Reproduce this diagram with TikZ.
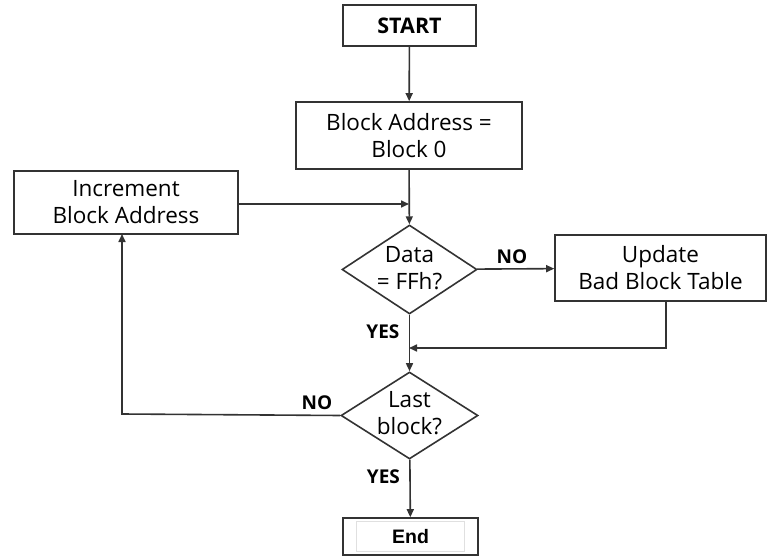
\documentclass[tikz,border=0pt]{standalone}
\usepackage{fontspec}
\setmainfont{Open Sans}
\newfontfamily\arialfont{Liberation Sans}
\usetikzlibrary{shapes.geometric,arrows.meta}
\tikzset{
  line/.style={draw=black!80, line width=1.6pt},
  flow/.style={line, -{Triangle[length=8pt,width=7pt]}},
  boxnode/.style={line, rectangle, inner sep=0pt, align=center, font=\fontsize{22.5}{27}\selectfont},
  decision/.style={line, diamond, inner sep=0pt},
  decisiontext/.style={align=center, inner sep=0pt, font=\fontsize{22.5}{27}\selectfont},
  tag/.style={font=\bfseries\fontsize{19}{22}\selectfont}
}
\begin{document}
\begin{tikzpicture}[x=1pt,y=-1pt]
\useasboundingbox (0,0) rectangle (768,556);
\node[boxnode, minimum width=133pt, minimum height=41pt, font=\bfseries\fontsize{21.5}{25}\selectfont] (start) at (409.5,25.5) {START};
\node[boxnode, minimum width=226pt, minimum height=67pt] (init) at (409,135.5) {Block Address =\\Block 0};
\node[boxnode, minimum width=224pt, minimum height=63pt] (incr) at (126,202.5) {Increment\\Block Address};
\node[decision, minimum width=135pt, minimum height=89pt] (data) at (409.5,269.5) {};
\node[decisiontext] (datatext) at (409.5,268) {Data\\= FFh?};
\node[boxnode, minimum width=211pt, minimum height=66pt] (update) at (660.5,268) {Update\\Bad Block Table};
\node[decision, minimum width=137pt, minimum height=87pt] (last) at (409.5,415.5) {};
\node[decisiontext] (lasttext) at (409.5,413.5) {Last\\block?};
\node[boxnode, minimum width=135pt, minimum height=37pt, font=\arialfont\bfseries\fontsize{19.5}{23}\selectfont] (end) at (410.5,536.5) {End};
\draw[draw=black!12, line width=0.8pt] ([shift={(14pt,-4pt)}]end.north west) rectangle ([shift={(-14pt,4pt)}]end.south east);

\coordinate (join1) at (409,204);
\coordinate (upcorner) at (666,348);
\coordinate (join2) at (409,348);
\coordinate (lastcorner) at (122,414);
\coordinate (incrin) at (122,234);
\coordinate (updout) at (666,301);

\draw[flow] (start) -- (init);
\draw[flow] (init) -- (data);
\draw[flow] (incr.east |- join1) -- (join1);
\draw[flow] (data) -- (update) node[tag, pos=0.45, above=1pt] {NO};
\draw[flow] (data) -- (last) node[tag, pos=0.3, left=6pt] {YES};
\draw[flow] (updout) -- (upcorner) -- (join2);
\draw[flow] (last.west) -- (lastcorner) -- (incrin);
\node[tag] (nolbl) at (317,403) {NO};
\draw[flow] (last) -- (end) node[tag, pos=0.3, left=6pt] {YES};
\end{tikzpicture}
\end{document}
